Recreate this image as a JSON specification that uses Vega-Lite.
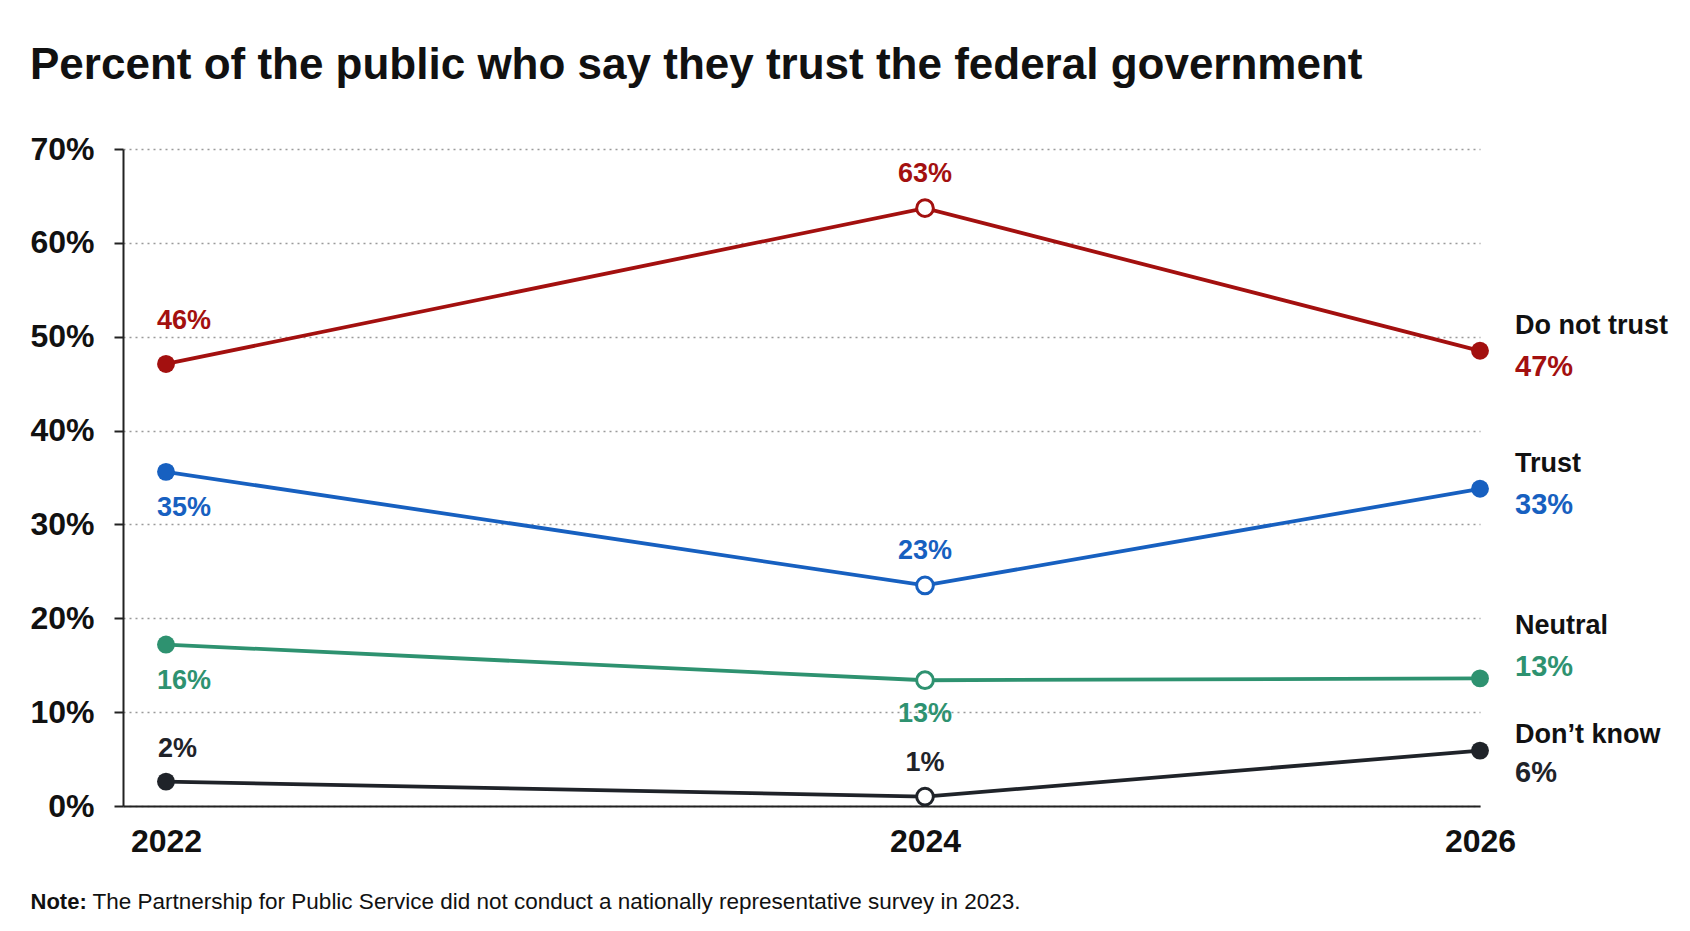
{
  "$schema": "https://vega.github.io/schema/vega-lite/v6.json",
  "width": 1357,
  "height": 657,
  "autosize": {"type": "none"},
  "padding": {"left": 123, "top": 149, "right": 210, "bottom": 125},
  "background": "white",
  "title": {
    "text": "Percent of the public who say they trust the federal government",
    "anchor": "start",
    "frame": "group",
    "dx": -93,
    "offset": 10,
    "baseline": "alphabetic",
    "font": "Liberation Sans, Arial, sans-serif",
    "fontSize": 44,
    "fontWeight": "bold",
    "color": "#111111"
  },
  "config": {
    "view": {"stroke": null},
    "font": "Liberation Sans, Arial, sans-serif",
    "text": {"font": "Liberation Sans, Arial, sans-serif", "fontSize": 27, "fontWeight": "bold", "baseline": "middle"}
  },
  "data": {
    "values": [
      {"series": "Do not trust", "year": 2022, "value": 47.1, "label": "46%"},
      {"series": "Do not trust", "year": 2024, "value": 63.7, "label": "63%"},
      {"series": "Do not trust", "year": 2026, "value": 48.5, "label": "47%"},
      {"series": "Trust", "year": 2022, "value": 35.6, "label": "35%"},
      {"series": "Trust", "year": 2024, "value": 23.5, "label": "23%"},
      {"series": "Trust", "year": 2026, "value": 33.8, "label": "33%"},
      {"series": "Neutral", "year": 2022, "value": 17.2, "label": "16%"},
      {"series": "Neutral", "year": 2024, "value": 13.4, "label": "13%"},
      {"series": "Neutral", "year": 2026, "value": 13.6, "label": "13%"},
      {"series": "Don’t know", "year": 2022, "value": 2.6, "label": "2%"},
      {"series": "Don’t know", "year": 2024, "value": 1.0, "label": "1%"},
      {"series": "Don’t know", "year": 2026, "value": 5.9, "label": "6%"}
    ]
  },
  "encoding": {
    "x": {
      "field": "year",
      "type": "quantitative",
      "scale": {"domain": [2021.8867, 2022, 2024, 2026], "range": [0, 43, 802, 1357], "nice": false, "zero": false},
      "axis": {
        "values": [2022, 2024, 2026],
        "format": "d",
        "grid": false,
        "ticks": false,
        "labelFlush": false,
        "domainColor": "#222222",
        "domainWidth": 2,
        "labelFont": "Liberation Sans, Arial, sans-serif",
        "labelFontSize": 32,
        "labelFontWeight": "bold",
        "labelColor": "#111111",
        "labelPadding": 20,
        "title": "The Partnership for Public Service did not conduct a nationally representative survey in 2023.",
        "titleFont": "Liberation Sans, Arial, sans-serif",
        "titleFontSize": 22.5,
        "titleFontWeight": "normal",
        "titleColor": "#111111",
        "titleAlign": "left",
        "titleBaseline": "alphabetic",
        "titleX": -31,
        "titleY": 102
      }
    },
    "y": {
      "field": "value",
      "type": "quantitative",
      "scale": {"domain": [0, 70], "nice": false},
      "axis": {
        "values": [0, 10, 20, 30, 40, 50, 60, 70],
        "labelExpr": "datum.value + '%'",
        "grid": true,
        "gridColor": "#9a9a9a",
        "gridDash": [2, 4],
        "gridWidth": 1.5,
        "domainColor": "#222222",
        "domainWidth": 2,
        "tickColor": "#222222",
        "tickWidth": 2,
        "tickSize": 9,
        "labelFont": "Liberation Sans, Arial, sans-serif",
        "labelFontSize": 32,
        "labelFontWeight": "bold",
        "labelColor": "#111111",
        "labelPadding": 20,
        "title": "Note:",
        "titleFont": "Liberation Sans, Arial, sans-serif",
        "titleFontSize": 22,
        "titleFontWeight": "bold",
        "titleColor": "#111111",
        "titleAngle": 0,
        "titleAlign": "left",
        "titleBaseline": "alphabetic",
        "titleX": -93,
        "titleY": 759
      }
    },
    "color": {
      "field": "series",
      "type": "nominal",
      "scale": {
        "domain": ["Do not trust", "Trust", "Neutral", "Don’t know"],
        "range": ["#a3100f", "#1760c0", "#2e9270", "#1f2329"]
      },
      "legend": null
    }
  },
  "layer": [
    {"mark": {"type": "line", "strokeWidth": 3.8}},
    {
      "transform": [{"filter": "datum.year != 2024"}],
      "mark": {"type": "point", "filled": true, "size": 320, "opacity": 1}
    },
    {
      "transform": [{"filter": "datum.year == 2024"}],
      "mark": {"type": "point", "filled": false, "fill": "white", "size": 280, "strokeWidth": 3, "opacity": 1}
    },
    {
      "transform": [{"filter": "datum.year == 2024 && datum.series != 'Neutral'"}],
      "mark": {"type": "text", "align": "center", "dy": -34},
      "encoding": {"text": {"field": "label"}}
    },
    {
      "transform": [{"filter": "datum.year == 2024 && datum.series == 'Neutral'"}],
      "mark": {"type": "text", "align": "center", "dy": 34},
      "encoding": {"text": {"field": "label"}}
    },
    {
      "transform": [{"filter": "datum.year == 2022 && datum.series == 'Do not trust'"}],
      "mark": {"type": "text", "align": "left", "dx": -9, "dy": -43},
      "encoding": {"text": {"field": "label"}}
    },
    {
      "transform": [{"filter": "datum.year == 2022 && datum.series == 'Don’t know'"}],
      "mark": {"type": "text", "align": "left", "dx": -8, "dy": -33},
      "encoding": {"text": {"field": "label"}}
    },
    {
      "transform": [{"filter": "datum.year == 2022 && (datum.series == 'Trust' || datum.series == 'Neutral')"}],
      "mark": {"type": "text", "align": "left", "dx": -9, "dy": 36},
      "encoding": {"text": {"field": "label"}}
    },
    {
      "transform": [{"filter": "datum.year == 2026 && (datum.series == 'Do not trust' || datum.series == 'Trust')"}],
      "mark": {"type": "text", "align": "left", "dx": 35, "dy": -25, "fontSize": 27},
      "encoding": {"text": {"field": "series"}, "color": {"value": "#111111"}}
    },
    {
      "transform": [{"filter": "datum.year == 2026 && datum.series == 'Neutral'"}],
      "mark": {"type": "text", "align": "left", "dx": 35, "dy": -52, "fontSize": 27},
      "encoding": {"text": {"field": "series"}, "color": {"value": "#111111"}}
    },
    {
      "transform": [{"filter": "datum.year == 2026 && datum.series == 'Don’t know'"}],
      "mark": {"type": "text", "align": "left", "dx": 35, "dy": -16, "fontSize": 27},
      "encoding": {"text": {"field": "series"}, "color": {"value": "#111111"}}
    },
    {
      "transform": [{"filter": "datum.year == 2026 && (datum.series == 'Do not trust' || datum.series == 'Trust')"}],
      "mark": {"type": "text", "align": "left", "dx": 35, "dy": 16, "fontSize": 29},
      "encoding": {"text": {"field": "label"}}
    },
    {
      "transform": [{"filter": "datum.year == 2026 && datum.series == 'Neutral'"}],
      "mark": {"type": "text", "align": "left", "dx": 35, "dy": -11, "fontSize": 29},
      "encoding": {"text": {"field": "label"}}
    },
    {
      "transform": [{"filter": "datum.year == 2026 && datum.series == 'Don’t know'"}],
      "mark": {"type": "text", "align": "left", "dx": 35, "dy": 22, "fontSize": 29},
      "encoding": {"text": {"field": "label"}}
    }
  ]
}
